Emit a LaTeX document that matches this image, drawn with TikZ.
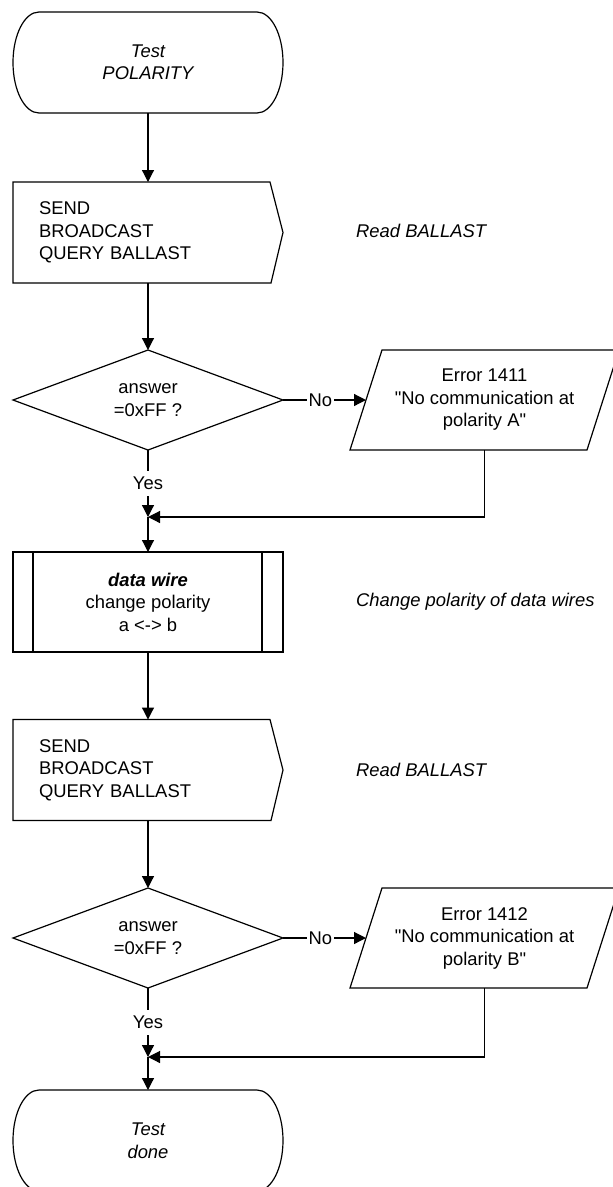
\documentclass[tikz,border=0pt]{standalone}
\usepackage{fontspec}
\setmainfont{Liberation Sans}[Ligatures=TeXOff]
\usetikzlibrary{arrows.meta,shapes.geometric,calc}
\begin{document}
\begin{tikzpicture}[x=1pt,y=1pt,
  every node/.style={font=\fontsize{18.4}{22.5}\selectfont},
  outline/.style={line width=1.2pt},
  conn/.style={line width=1.2pt,-{Triangle[length=12pt,width=12pt]}},
  term/.style={draw=none,minimum width=270pt,minimum height=101pt,inner sep=0pt,outer sep=0pt,align=center,
    font=\fontsize{18.4}{22.5}\selectfont\itshape},
  sendbox/.style={draw=none,minimum height=101pt,text width=218pt,inner xsep=26pt,inner ysep=0pt,outer sep=0pt,align=left},
  decision/.style={diamond,draw,line width=1.2pt,minimum width=270pt,minimum height=100pt,aspect=2.7,inner sep=0pt,outer sep=0pt,align=center},
  errbox/.style={draw=none,minimum width=237pt,minimum height=100pt,inner sep=0pt,outer sep=0pt,align=center},
  procbox/.style={draw,line width=1.2pt,minimum width=270pt,minimum height=100pt,inner sep=0pt,outer sep=0pt,align=center},
  comment/.style={anchor=west,inner sep=0pt,font=\fontsize{18.4}{22.5}\selectfont\itshape},
  nolbl/.style={fill=white,inner xsep=2pt,inner ysep=1pt,pos=0.45},
  yeslbl/.style={fill=white,inner xsep=1pt,inner ysep=6pt,pos=0.5},
]
\useasboundingbox (0,0) rectangle (613,-1187);
\clip (0,0) rectangle (613,-1187);

% ---------- nodes ----------
\node[term] (t1) at (148,-62.5) {Test\\POLARITY};
\node[sendbox] (s1) at (148,-232.5) {SEND\\BROADCAST\\QUERY BALLAST};
\node[comment] (c1) at (356,-231) {Read BALLAST};
\node[decision] (d1) at (148,-400) {answer\\=0xFF ?};
\node[errbox] (e1) at (484.5,-400) {Error 1411\\"No communication at\\polarity A"};
\coordinate (m1) at (148,-517);
\node[procbox] (dw) at (148,-602) {\textbf{\textit{data wire}}\\change polarity\\a <-> b};
\node[comment] (c2) at (356,-602) {Change polarity of data wires};
\node[sendbox] (s2) at (148,-770) {SEND\\BROADCAST\\QUERY BALLAST};
\node[comment] (c3) at (356,-770) {Read BALLAST};
\node[decision] (d2) at (148,-938) {answer\\=0xFF ?};
\node[errbox] (e2) at (484.5,-938) {Error 1412\\"No communication at\\polarity B"};
\coordinate (m2) at (148,-1057);
\node[term] (t2) at (148,-1140.5) {Test\\done};

% ---------- shapes ----------
\foreach \t in {t1,t2}{
  \draw[outline] ([xshift=26pt]\t.north west) -- ([xshift=-26pt]\t.north east)
    arc[start angle=90,end angle=-90,x radius=26pt,y radius=50.5pt]
    -- ([xshift=26pt]\t.south west)
    arc[start angle=270,end angle=90,x radius=26pt,y radius=50.5pt] -- cycle;
}
\foreach \s in {s1,s2}{
  \draw[outline] (\s.north west) -- ([xshift=-13pt]\s.north east) -- (\s.east)
    -- ([xshift=-12pt]\s.south east) -- (\s.south west) -- cycle;
}
\foreach \e in {e1,e2}{
  \draw[outline] ([xshift=-16pt]\e.south west) -- ([xshift=16pt]\e.north west)
    -- ([xshift=16pt]\e.north east) -- ([xshift=-16pt]\e.south east) -- cycle;
}
\draw[outline] ([xshift=20pt]dw.north west) -- ([xshift=20pt]dw.south west);
\draw[outline] ([xshift=-21pt]dw.north east) -- ([xshift=-21pt]dw.south east);

% ---------- connectors ----------
\draw[conn] (t1.south) -- (s1.north);
\draw[conn] (s1.south) -- (d1.north);
\draw[conn] (d1.east) -- node[nolbl]{No} (e1.west);
\draw[conn] (d1.south) -- node[yeslbl]{Yes} (m1);
\draw[conn] (e1.south) |- (m1);
\draw[conn] (m1) -- (dw.north);
\draw[conn] (dw.south) -- (s2.north);
\draw[conn] (s2.south) -- (d2.north);
\draw[conn] (d2.east) -- node[nolbl]{No} (e2.west);
\draw[conn] (d2.south) -- node[yeslbl]{Yes} (m2);
\draw[conn] (e2.south) |- (m2);
\draw[conn] (m2) -- (t2.north);
\end{tikzpicture}
\end{document}
